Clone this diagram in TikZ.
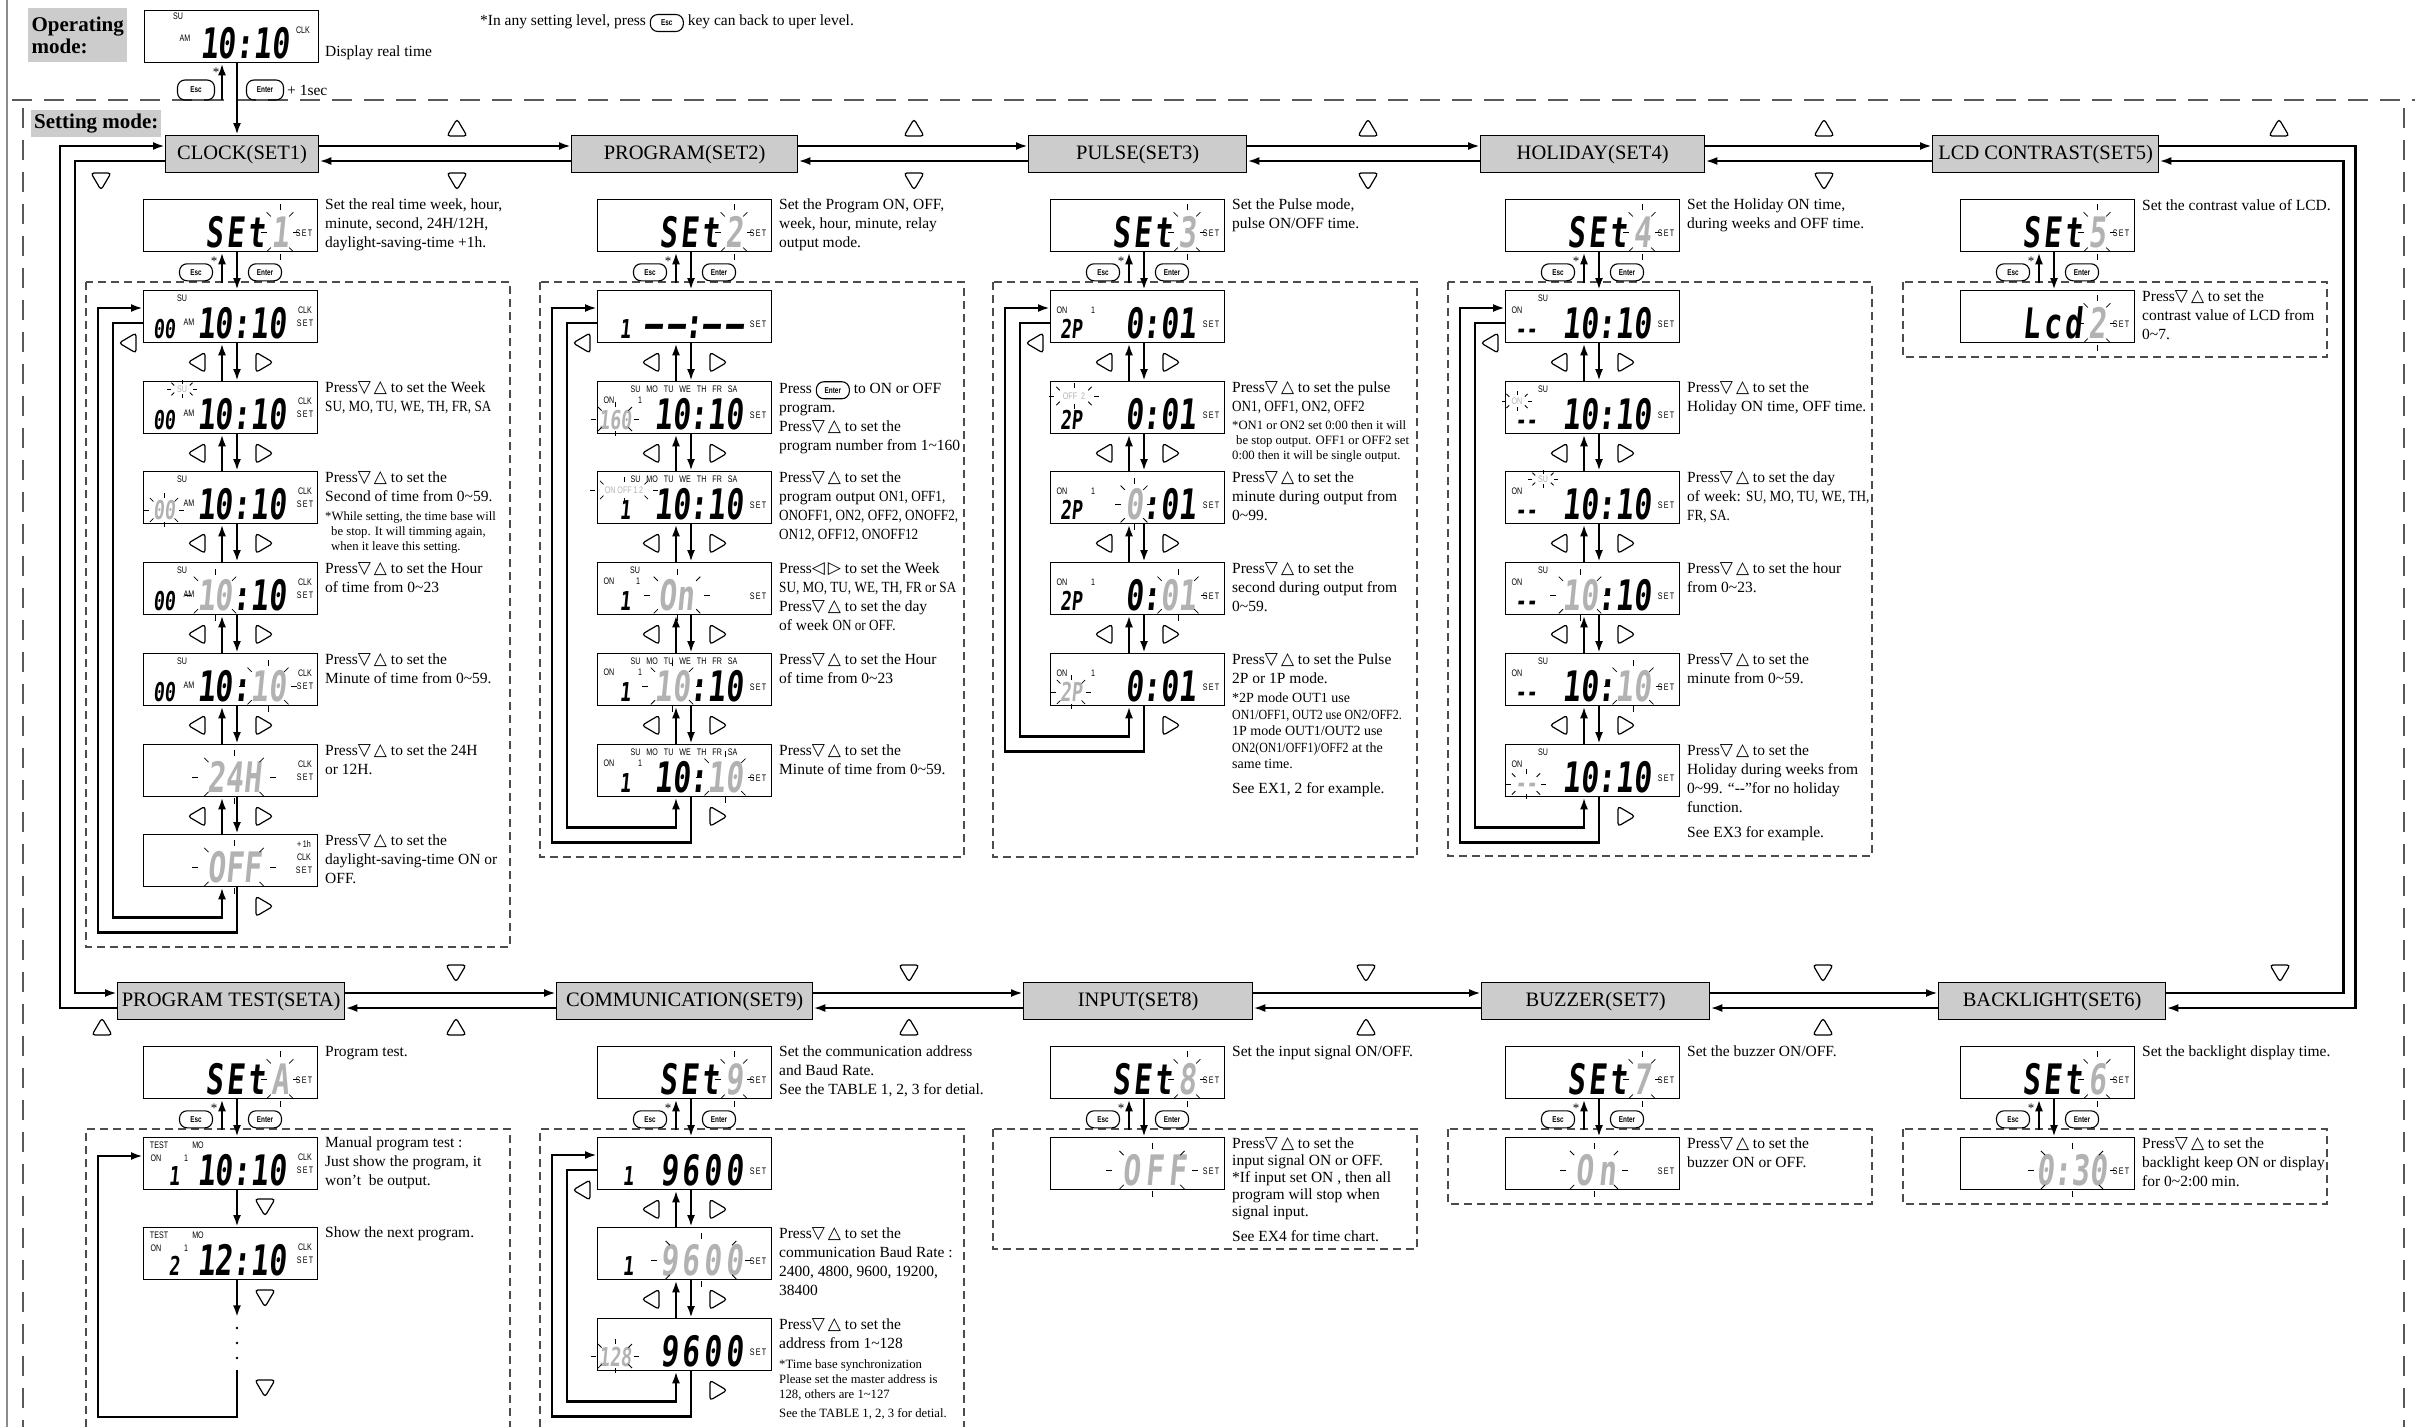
\documentclass[tikz,border=0pt]{standalone}
\usepackage{fontspec}
\setmainfont{Liberation Serif}
\newfontfamily\txtf{Liberation Serif}
\newfontfamily\txtc[FakeStretch=0.85]{Liberation Serif}
\newfontfamily\segf[FakeStretch=0.7,FakeSlant=0.1]{DejaVu Sans Mono Bold}
\newfontfamily\labf[FakeStretch=0.75]{Liberation Sans}
\newfontfamily\symf{DejaVu Sans}
\usetikzlibrary{arrows.meta,calc}
\definecolor{lg}{gray}{0.7}
\definecolor{boxg}{gray}{0.8}
\newcounter{nn}
\newcommand\fs[2]{\fontsize{#1}{#2}\selectfont}
\newcommand\tdn{{\symf\fs{17}{19}▽}}
\newcommand\tup{{\symf\fs{17}{19}△}}
\newcommand\tlf{{\symf\fs{17}{19}◁}}
\newcommand\trt{{\symf\fs{17}{19}▷}}
\newcommand\PR{Press\tdn\kern3pt\tup{} }
\newcommand\PLR{Press\tlf\kern3pt\trt{} }
\newcommand\tild{\textasciitilde}
\newcommand\kbtn[1]{\tikz[baseline=(kb.base)]\node[btn](kb){#1};}
\tikzset{
 lcd/.style={draw,line width=1.3pt,minimum width=174pt,minimum height=52pt,inner sep=0pt,anchor=north west},
 ttl/.style={draw,line width=1.3pt,fill=boxg,minimum height=37pt,inner sep=0pt,anchor=north west,font=\txtf\fs{20.5}{21}},
 ring/.style={line width=2.8pt},
 vline/.style={line width=2.4pt},
 arr/.style={-{Latex[length=12pt,width=8pt]}},
 grp/.style={dash pattern=on 8pt off 5pt,line width=1.2pt,draw=black!70},
 frm/.style={dash pattern=on 20pt off 12pt,line width=1.4pt,draw=black!65},
 desc/.style={anchor=north west,inner sep=0pt,align=left,font=\txtf\fs{15.5}{19}},
 note/.style={anchor=north west,inner sep=0pt,align=left,font=\txtf\fs{12.7}{15}},
 btn/.style={draw,line width=1.1pt,rounded corners=7.5pt,minimum width=33pt,minimum height=17pt,inner sep=0pt,font=\labf\bfseries\fs{8.5}{8.5}},
 lab/.style={inner sep=0pt,align=center,font=\labf\fs{9.5}{9.5}},
 sg/.style={inner sep=0pt,anchor=base east,font=\segf\fs{42}{42}},
 sgm/.style={inner sep=0pt,anchor=base,font=\segf\fs{26}{26}},
 ray/.style={line width=0.8pt},
 trib/.style={line width=1.2pt,rounded corners=3pt},
 mode/.style={fill=boxg,inner sep=0pt,anchor=north west,align=left,font=\txtf\bfseries\fs{21}{22}},
}
\newcommand\Lab[3]{\stepcounter{nn}\node[lab] (l\thenn) at (#1,#2) {#3};}
\newcommand\Sg[3]{\stepcounter{nn}\node[sg] (s\thenn) at (#1,#2) {#3};}
\newcommand\Sm[3]{\stepcounter{nn}\node[sgm] (m\thenn) at (#1,#2) {#3};}
\newcommand\Rays[5]{\foreach \ra in {0,45,...,315}{\draw[ray] ({#1+(#3)*cos(\ra)},{#2+(#4)*sin(\ra)}) -- ++({(#5)*cos(\ra)},{(#5)*sin(\ra)});}}
\newcommand\TriA[2]{\begin{scope}[shift={#1},rotate=#2]\draw[trib] (0,-9) -- (10,8) -- (-10,8) -- cycle;\end{scope}}
\newcommand\LCD[4]{\node[lcd] (#1) at (#2,#3) {};\begin{scope}[shift={(#2,#3)}]#4\end{scope}}
\newcommand\SETl{\Lab{161}{34}{S\kern1.2pt E\kern1.2pt T}}
\newcommand\CLKl{\Lab{162}{27}{CLK\\[3.5pt]S\kern1.2pt E\kern1.2pt T}}
\newcommand\wk{SU\hspace{6pt}MO\hspace{6pt}TU\hspace{6pt}WE\hspace{6pt}TH\hspace{6pt}FR\hspace{6pt}SA}
\newcommand\nsix{9\kern4pt 6\kern4pt 0\kern4pt 0}
\newcommand\SETbox[4]{\LCD{#1}{#2}{#3}{\Sg{122}{48}{S\kern3pt E\kern3pt t}\Sg{146}{48}{\textcolor{lg}{#4}}\Rays{137}{33}{13}{22}{6}\SETl}}
\newcommand\ClkBox[8]{\LCD{#1}{#2}{#3}{\Lab{39}{8}{\textcolor{#4}{SU}}\Sm{21}{48}{\textcolor{#5}{00}}\Lab{46}{32}{AM}\Sg{143}{48}{\textcolor{#6}{10}:\textcolor{#7}{10}}\CLKl#8}}
\newcommand\PrgBox[6]{\LCD{#1}{#2}{#3}{\Lab{87}{8}{\wk}\Lab{12}{19}{ON}\Lab{43}{19}{1}\Sm{28}{48}{1}\Sg{146}{48}{\textcolor{#4}{10}:\textcolor{#5}{10}}\SETl#6}}
\newcommand\PlsBox[6]{\LCD{#1}{#2}{#3}{\Lab{12}{20}{ON}\Lab{43}{20}{1}\Sm{21}{48}{\textcolor{#4}{2P}}\Sg{146}{48}{#5}\SETl#6}}
\newcommand\HolBox[9]{\LCD{#1}{#2}{#3}{\Lab{38}{8}{\textcolor{#4}{SU}}\Lab{12}{20}{\textcolor{#5}{ON}}\Sm{21}{48}{\textcolor{#6}{-{}-}}\Sg{146}{48}{\textcolor{#7}{10}:\textcolor{#8}{10}}\SETl#9}}
\newcommand\TstBox[5]{\LCD{#1}{#2}{#3}{\Lab{16}{8}{TEST}\Lab{55}{8}{MO}\Lab{13}{21}{ON}\Lab{43}{21}{1}\Sm{31}{48}{#4}\Sg{143}{48}{#5}\CLKl}}
\newcommand\Pair[2]{%
 \draw[vline,arr] ($(#2.north west)+(79,0)$) -- ($(#1.south west)+(79,0)$);
 \draw[vline,arr] ($(#1.south west)+(94,0)$) -- ($(#2.north west)+(94,0)$);
 \TriA{($(#1.south west)+(54,19)$)}{90}\TriA{($(#1.south west)+(121,19)$)}{-90}}
\newcommand\Loop[2]{%
 \draw[vline,arr] ($(#2.south west)+(94,0)$) -- ++(0,45) -| ($(#1.north west)+(-45,18)$) -- ($(#1.north west)+(0,18)$);
 \draw[vline,arr] ($(#1.north west)+(0,33)$) -- ++(-30,0) |- ($(#2.south west)+(79,30)$) -- ($(#2.south west)+(79,0)$);
 \TriA{($(#1.north west)+(-15,53)$)}{90}\TriA{($(#2.south west)+(121,19)$)}{-90}}
\newcommand\SetArr[2]{%
 \draw[vline,arr] ($(#1.south west)+(79,31)$) -- ($(#1.south west)+(79,0)$);
 \draw[vline,arr] ($(#1.south west)+(94,0)$) -- ($(#2.north west)+(94,0)$);
 \node[btn] (esc#1) at ($(#1.south west)+(53,20)$) {Esc};
 \node[btn] (ent#1) at ($(#1.south west)+(122,20)$) {Enter};
 \node[inner sep=0pt,font=\txtf\fs{13}{13}] (ast#1) at ($(#1.south west)+(71,9)$) {*};}
\begin{document}
\begin{tikzpicture}[x=1pt,y=-1pt]
\useasboundingbox (0,0) rectangle (2415,1427);
% frame
\draw[line width=1.5pt,black!45] (7,0) -- (7,1427);
\draw[frm] (12,100) -- (2415,100);
\draw[frm] (23,108) -- (23,1427);
\draw[frm] (2404,108) -- (2404,1427);
% operating mode
\node[mode,inner xsep=3pt,minimum width=99pt,minimum height=54pt] (opm) at (28,8) {Operating\\mode:};
\LCD{op}{144}{10}{\Lab{34}{6}{SU}\Lab{41}{28}{AM}\Sg{145}{48}{10:10}\Lab{159}{20}{CLK}}
\node[desc,anchor=west] (opd) at (325,53) {Display real time};
\node[btn,minimum width=37pt,minimum height=20pt] (opesc) at (196,90) {Esc};
\node[btn,minimum width=37pt,minimum height=20pt] (opent) at (265,90) {Enter};
\node[desc,anchor=west] (ops) at (287,90) {+ 1sec};
\node[inner sep=0pt,font=\txtf\fs{13}{13}] (opast) at (216,72) {*};
\node[desc,anchor=west] (note0) at (480,23) {*In any setting level, press \kbtn{Esc} key can back to uper level.};
\coordinate (escfoot) at (222,100);
\draw[vline,arr] (escfoot) -- ($(op.south west)+(78,0)$);
\node[mode,inner xsep=3pt,minimum height=27pt] (setm) at (31,110) {Setting mode:};
% titles
\node[ttl,minimum width=153pt] (clock) at (165,135) {CLOCK(SET1)};
\node[ttl,minimum width=226pt] (prog) at (571,135) {PROGRAM(SET2)};
\node[ttl,minimum width=218pt] (pulse) at (1028,135) {PULSE(SET3)};
\node[ttl,minimum width=224pt] (hol) at (1480,135) {HOLIDAY(SET4)};
\node[ttl,minimum width=226pt] (lcdc) at (1932,135) {LCD CONTRAST(SET5)};
\node[ttl,minimum width=227pt] (pt) at (117,982) {PROGRAM TEST(SETA)};
\node[ttl,minimum width=256pt] (comm) at (556,982) {COMMUNICATION(SET9)};
\node[ttl,minimum width=229pt] (inp) at (1023,982) {INPUT(SET8)};
\node[ttl,minimum width=228pt] (buz) at (1481,982) {BUZZER(SET7)};
\node[ttl,minimum width=227pt] (backl) at (1938,982) {BACKLIGHT(SET6)};
\draw[vline,arr] ($(op.south west)+(93,0)$) -- ($(clock.north west)+(72,0)$);
% ring
\foreach \a/\b in {clock/prog,prog/pulse,pulse/hol,hol/lcdc,pt/comm,comm/inp,inp/buz,buz/backl}{
 \draw[ring,arr] ($(\a.north east)+(0,11)$) -- ($(\b.north west)+(0,11)$);
 \draw[ring,arr] ($(\b.north west)+(0,26)$) -- ($(\a.north east)+(0,26)$);}
\draw[ring,arr] ($(lcdc.north east)+(0,11)$) -- ++(196,0) |- ($(backl.north east)+(0,26)$);
\draw[ring,arr] ($(backl.north east)+(0,11)$) -- ++(177,0) |- ($(lcdc.north east)+(0,26)$);
\draw[ring,arr] ($(pt.north west)+(0,26)$) -- ++(-57,0) |- ($(clock.north west)+(0,11)$);
\draw[ring,arr] ($(clock.north west)+(0,26)$) -- ++(-90,0) |- ($(pt.north west)+(0,11)$);
% ring triangles
\foreach \x in {457,914,1368,1824,2279}{\TriA{(\x,128)}{0}}
\foreach \x in {101,457,914,1368,1824}{\TriA{(\x,181)}{180}}
\foreach \x in {456,909,1366,1823,2280}{\TriA{(\x,973)}{180}}
\foreach \x in {102,456,909,1366,1823}{\TriA{(\x,1027)}{0}}
% group boxes
\draw[grp] (86,282) rectangle (510,947);
\draw[grp] (540,282) rectangle (964,857);
\draw[grp] (993,282) rectangle (1417,857);
\draw[grp] (1448,282) rectangle (1872,856);
\draw[grp] (1903,282) rectangle (2327,357);
\draw[grp] (86,1427) -- (86,1129) -- (510,1129) -- (510,1427);
\draw[grp] (540,1427) -- (540,1129) -- (964,1129) -- (964,1427);
\draw[grp] (993,1129) rectangle (1417,1249);
\draw[grp] (1448,1129) rectangle (1872,1204);
\draw[grp] (1903,1129) rectangle (2327,1204);
% CLOCK column
\SETbox{cs}{143}{199}{1}
\ClkBox{c1}{143}{290}{black}{black}{black}{black}{}
\ClkBox{c2}{143}{381}{lg}{black}{black}{black}{\Rays{39}{8}{11}{5}{4}}
\ClkBox{c3}{143}{471}{black}{lg}{black}{black}{\Rays{21}{39}{15}{12}{5}}
\ClkBox{c4}{143}{562}{black}{black}{lg}{black}{\Rays{72}{33}{24}{20}{6}}
\ClkBox{c5}{143}{653}{black}{black}{black}{lg}{\Rays{125}{33}{23}{20}{6}}
\LCD{c6}{143}{744}{\Sg{118}{48}{\textcolor{lg}{24H}}\Rays{91}{33}{36}{21}{6}\CLKl}
\LCD{c7}{143}{834}{\Sg{118}{48}{\textcolor{lg}{OFF}}\Rays{91}{33}{36}{21}{6}\Lab{161}{23}{+\,1h\\[3.5pt]CLK\\[3.5pt]S\kern1.2pt E\kern1.2pt T}}
\SetArr{cs}{c1}
\Pair{c1}{c2}\Pair{c2}{c3}\Pair{c3}{c4}\Pair{c4}{c5}\Pair{c5}{c6}\Pair{c6}{c7}\Loop{c1}{c7}
\node[desc] (dcs) at (325,199) {Set the real time week, hour,\\minute, second, 24H/12H,\\daylight-saving-time +1h.};
\node[desc] (dc2) at (325,381) {\PR to set the Week\\{\txtc SU, MO, TU, WE, TH, FR, SA}};
\node[desc] (dc3) at (325,471) {\PR to set the\\Second of time from 0\tild 59.};
\node[note] (nc3) at (325,511) {*While setting, the time base will\\\hspace*{6pt}be stop. It will timming again,\\\hspace*{6pt}when it leave this setting.};
\node[desc] (dc4) at (325,562) {\PR to set the Hour\\of time from 0\tild 23};
\node[desc] (dc5) at (325,653) {\PR to set the\\Minute of time from 0\tild 59.};
\node[desc] (dc6) at (325,744) {\PR to set the 24H\\or 12H.};
\node[desc] (dc7) at (325,834) {\PR to set the\\daylight-saving-time ON or\\OFF.};
% PROGRAM column
\SETbox{ps}{597}{199}{2}
\LCD{p1}{597}{290}{\Sm{28}{48}{1}\Sg{146}{48}{–\kern5pt–:–\kern5pt–}\SETl}
\LCD{p2}{597}{381}{\Lab{87}{8}{\wk}\Lab{12}{19}{ON}\Lab{43}{19}{1}\Sm{18}{48}{\textcolor{lg}{160}}\Rays{18}{38}{19}{12}{5}\Sg{146}{48}{10:10}\SETl}
\LCD{p3}{597}{471}{\Lab{87}{8}{\wk}\Lab{27}{19}{\textcolor{lg}{ON OFF 1\,2}}\Rays{27}{19}{29}{8}{5}\Sm{28}{48}{1}\Sg{146}{48}{10:10}\SETl}
\LCD{p4}{597}{562}{\Lab{38}{8}{SU}\Lab{12}{19}{ON}\Lab{41}{19}{1}\Sm{28}{48}{1}\Sg{97}{48}{\textcolor{lg}{On}}\Rays{80}{33}{27}{20}{6}\SETl}
\PrgBox{p5}{597}{653}{lg}{black}{\Rays{75}{33}{24}{20}{6}}
\PrgBox{p6}{597}{744}{black}{lg}{\Rays{128}{33}{23}{20}{6}}
\SetArr{ps}{p1}
\Pair{p1}{p2}\Pair{p2}{p3}\Pair{p3}{p4}\Pair{p4}{p5}\Pair{p5}{p6}\Loop{p1}{p6}
\node[desc] (dps) at (779,199) {Set the Program ON, OFF,\\week, hour, minute, relay\\output mode.};
\node[desc] (dp2) at (779,381) {Press \kbtn{Enter} to ON or OFF\\program.\\\PR to set the\\program number from 1\tild 160};
\node[desc] (dp3) at (779,471) {\PR to set the\\program output {\txtc ON1, OFF1,}\\{\txtc ONOFF1, ON2, OFF2, ONOFF2,}\\{\txtc ON12, OFF12, ONOFF12}};
\node[desc] (dp4) at (779,562) {\PLR to set the Week\\{\txtc SU, MO, TU, WE, TH, FR or SA}\\\PR to set the day\\of week {\txtc ON or OFF.}};
\node[desc] (dp5) at (779,653) {\PR to set the Hour\\of time from 0\tild 23};
\node[desc] (dp6) at (779,744) {\PR to set the\\Minute of time from 0\tild 59.};
% PULSE column
\SETbox{us}{1050}{199}{3}
\PlsBox{u1}{1050}{290}{black}{0:01}{}
\LCD{u2}{1050}{381}{\Lab{24}{15}{\textcolor{lg}{OFF\ \ 2}}\Rays{24}{15}{20}{8}{5}\Sm{21}{48}{2P}\Sg{146}{48}{0:01}\SETl}
\PlsBox{u3}{1050}{471}{black}{\textcolor{lg}{0}:01}{\Rays{84}{33}{13}{20}{6}}
\PlsBox{u4}{1050}{562}{black}{0:\textcolor{lg}{01}}{\Rays{128}{33}{23}{20}{6}}
\PlsBox{u5}{1050}{653}{lg}{0:01}{\Rays{21}{39}{15}{12}{5}}
\SetArr{us}{u1}
\Pair{u1}{u2}\Pair{u2}{u3}\Pair{u3}{u4}\Pair{u4}{u5}\Loop{u1}{u5}
\node[desc] (dus) at (1232,199) {Set the Pulse mode,\\pulse ON/OFF time.};
\node[desc] (du2) at (1232,381) {\PR to set the pulse\\{\txtc ON1, OFF1, ON2, OFF2}};
\node[note] (nu2) at (1232,420) {*ON1 or ON2 set 0:00 then it will\\\hspace*{4pt}be stop output. OFF1 or OFF2 set\\0:00 then it will be single output.};
\node[desc] (du3) at (1232,471) {\PR to set the\\minute during output from\\0\tild 99.};
\node[desc] (du4) at (1232,562) {\PR to set the\\second during output from\\0\tild 59.};
\node[desc] (du5) at (1232,653) {\PR to set the Pulse\\2P or 1P mode.};
\node[desc,font=\txtf\fs{14}{16.5}] (nu5) at (1232,693) {*2P mode OUT1 use\\{\txtc ON1/OFF1, OUT2 use ON2/OFF2.}\\1P mode OUT1/OUT2 use\\{\txtc ON2(ON1/OFF1)/OFF2} at the\\same time.};
\node[desc] (eu5) at (1232,782) {See EX1, 2 for example.};
% HOLIDAY column
\SETbox{hs}{1505}{199}{4}
\HolBox{h1}{1505}{290}{black}{black}{black}{black}{black}{}
\HolBox{h2}{1505}{381}{black}{lg}{black}{black}{black}{\Rays{12}{20}{11}{6}{4}}
\HolBox{h3}{1505}{471}{lg}{black}{black}{black}{black}{\Rays{38}{8}{11}{5}{4}}
\HolBox{h4}{1505}{562}{black}{black}{black}{lg}{black}{\Rays{75}{33}{24}{20}{6}}
\HolBox{h5}{1505}{653}{black}{black}{black}{black}{lg}{\Rays{128}{33}{23}{20}{6}}
\HolBox{h6}{1505}{744}{black}{black}{lg}{black}{black}{\Rays{21}{40}{15}{10}{5}}
\SetArr{hs}{h1}
\Pair{h1}{h2}\Pair{h2}{h3}\Pair{h3}{h4}\Pair{h4}{h5}\Pair{h5}{h6}\Loop{h1}{h6}
\node[desc] (dhs) at (1687,199) {Set the Holiday ON time,\\during weeks and OFF time.};
\node[desc] (dh2) at (1687,381) {\PR to set the\\Holiday ON time, OFF time.};
\node[desc] (dh3) at (1687,471) {\PR to set the day\\of week: {\txtc SU, MO, TU, WE, TH,}\\{\txtc FR, SA.}};
\node[desc] (dh4) at (1687,562) {\PR to set the hour\\from 0\tild 23.};
\node[desc] (dh5) at (1687,653) {\PR to set the\\minute from 0\tild 59.};
\node[desc] (dh6) at (1687,744) {\PR to set the\\Holiday during weeks from\\0\tild 99. “-{}-”for no holiday\\function.};
\node[desc] (eh6) at (1687,826) {See EX3 for example.};
% LCD column
\SETbox{ls}{1960}{199}{5}
\LCD{l1}{1960}{290}{\Sg{122}{48}{L\kern3pt c\kern3pt d}\Sg{146}{48}{\textcolor{lg}{2}}\Rays{137}{33}{13}{22}{6}\SETl}
\SetArr{ls}{l1}
\node[desc] (dls) at (2142,199) {Set the contrast value of LCD.};
\node[desc] (dl1) at (2142,290) {\PR to set the\\contrast value of LCD from\\0\tild 7.};
% PROGRAM TEST column
\SETbox{ts}{143}{1046}{A}
\TstBox{t1}{143}{1137}{1}{10:10}
\TstBox{t2}{143}{1227}{2}{12:10}
\SetArr{ts}{t1}
\draw[vline,arr] ($(t1.south west)+(94,0)$) -- ($(t2.north west)+(94,0)$);
\draw[vline,arr] ($(t2.south west)+(94,0)$) -- ++(0,37);
\foreach \yy in {1328,1343,1358}{\fill (237,\yy) circle (1.4);}
\coordinate (ptdots) at (237,1370);
\draw[vline,arr] (ptdots) -- ++(0,47) -| ($(t1.north west)+(-45,19)$) -- ($(t1.north west)+(0,19)$);
\foreach \yy in {1207,1298,1388}{\TriA{(265,\yy)}{180}}
\node[desc] (dts) at (325,1046) {Program test.};
\node[desc] (dt1) at (325,1137) {Manual program test :\\Just show the program, it\\won’t\ \ be output.};
\node[desc] (dt2) at (325,1227) {Show the next program.};
% COMMUNICATION column
\SETbox{ms}{597}{1046}{9}
\LCD{m1}{597}{1137}{\Sm{31}{48}{1}\Sg{146}{48}{\nsix}\SETl}
\LCD{m2}{597}{1227}{\Sm{31}{48}{1}\Sg{146}{48}{\textcolor{lg}{\nsix}}\Rays{104}{33}{44}{21}{6}\SETl}
\LCD{m3}{597}{1318}{\Sm{18}{48}{\textcolor{lg}{128}}\Rays{18}{38}{19}{12}{5}\Sg{146}{48}{\nsix}\SETl}
\SetArr{ms}{m1}
\Pair{m1}{m2}\Pair{m2}{m3}\Loop{m1}{m3}
\node[desc] (dms) at (779,1046) {Set the communication address\\and Baud Rate.\\See the TABLE 1, 2, 3 for detial.};
\node[desc] (dm2) at (779,1227) {\PR to set the\\communication Baud Rate :\\2400, 4800, 9600, 19200,\\38400};
\node[desc] (dm3) at (779,1318) {\PR to set the\\address from 1\tild 128};
\node[note] (nm3) at (779,1359) {*Time base synchronization\\Please set the master address is\\128, others are 1\tild 127};
\node[note] (em3) at (779,1408) {See the TABLE 1, 2, 3 for detial.};
% INPUT column
\SETbox{is}{1050}{1046}{8}
\LCD{i1}{1050}{1137}{\Sg{136}{48}{\textcolor{lg}{O\kern5pt F\kern5pt F}}\Rays{102}{33}{40}{21}{6}\SETl}
\SetArr{is}{i1}
\node[desc] (dis) at (1232,1046) {Set the input signal ON/OFF.};
\node[desc,font=\txtf\fs{15.5}{17}] (di1) at (1232,1137) {\PR to set the\\input signal ON or OFF.\\*If input set ON , then all\\program will stop when\\signal input.};
\node[desc] (ei1) at (1232,1230) {See EX4 for time chart.};
% BUZZER column
\SETbox{zs}{1505}{1046}{7}
\LCD{z1}{1505}{1137}{\Sg{111}{48}{\textcolor{lg}{O\kern5pt n}}\Rays{89}{33}{28}{21}{6}\SETl}
\SetArr{zs}{z1}
\node[desc] (dzs) at (1687,1046) {Set the buzzer ON/OFF.};
\node[desc] (dz1) at (1687,1137) {\PR to set the\\buzzer ON or OFF.};
% BACKLIGHT column
\SETbox{ks}{1960}{1046}{6}
\LCD{k1}{1960}{1137}{\Sg{147}{48}{\textcolor{lg}{0:30}}\Rays{112}{33}{38}{21}{6}\SETl}
\SetArr{ks}{k1}
\node[desc] (dks) at (2142,1046) {Set the backlight display time.};
\node[desc] (dk1) at (2142,1137) {\PR to set the\\backlight keep ON or display\\for 0\tild 2:00 min.};
\end{tikzpicture}
\end{document}
